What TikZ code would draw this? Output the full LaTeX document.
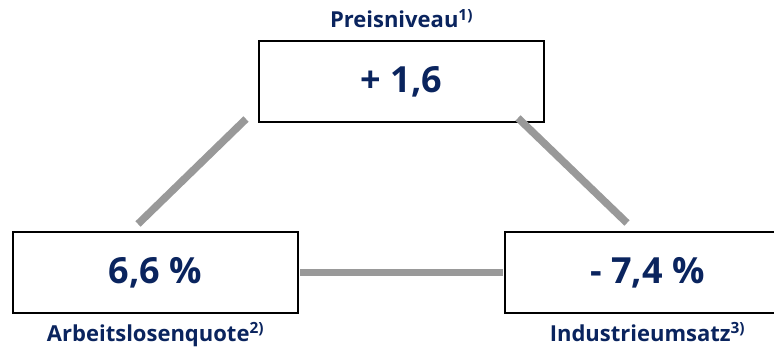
\documentclass[tikz,border=0pt]{standalone}
\usepackage{fontspec}
\setmainfont{Open Sans}
\usetikzlibrary{positioning}
\definecolor{navy}{RGB}{10,36,94}
\definecolor{linegray}{RGB}{153,153,153}
\tikzstyle{box}=[draw=black, line width=2pt, minimum width=285pt, minimum height=81pt, inner sep=0pt, font=\bfseries\fontsize{36}{40}\selectfont, text=navy]
\tikzstyle{caption}=[anchor=base, inner sep=0pt, font=\bfseries\fontsize{22}{26}\selectfont, text=navy]
\tikzstyle{link}=[line width=7.5pt, linegray]

\begin{document}
\begin{tikzpicture}[x=1pt,y=-1pt]
\useasboundingbox (0,0) rectangle (774,350);
% the three values
\node (preis) [box] at (401.5,82) {+ 1,6};
\node (alq) [box] at (155.5,272.5) {6,6 \%};
\node (ind) [box] at (647.5,272.5) {- 7,4 \%};
% captions
\node (preislab) [caption] at (preis.north |- 0,28) {Preisniveau\textsuperscript{1)}};
\node (alqlab) [caption] at (alq.south |- 0,341) {Arbeitslosenquote\textsuperscript{2)}};
\node (indlab) [caption] at (ind.south |- 0,341) {Industrieumsatz\textsuperscript{3)}};
% links
\coordinate (l1) at (138,224);
\coordinate (l2) at (246,119);
\coordinate (r1) at (518,118);
\coordinate (r2) at (627,223);
\draw[link] (l1) -- (l2);
\draw[link] (r1) -- (r2);
\draw[link,shorten <=1pt,shorten >=1pt] (alq.east) -- (ind.west);
\end{tikzpicture}
\end{document}
